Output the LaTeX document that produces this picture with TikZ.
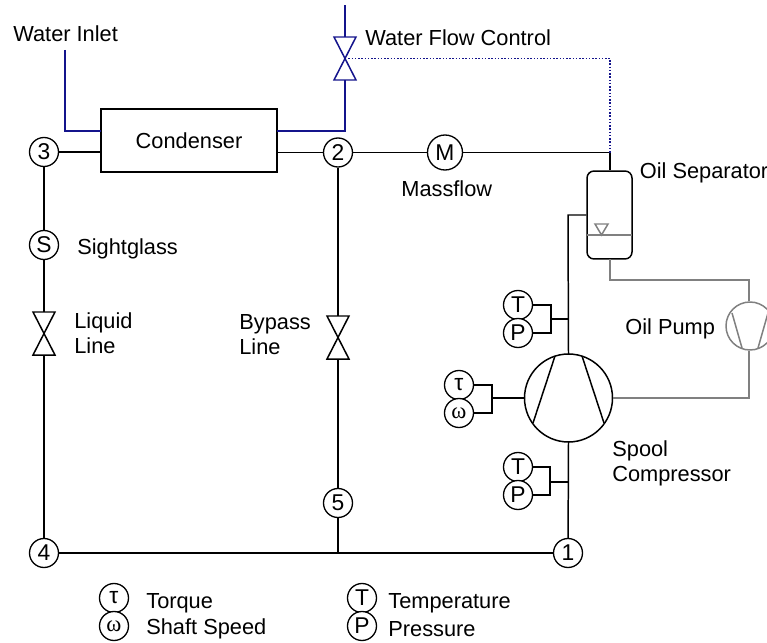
\documentclass[tikz,border=0pt]{standalone}
\usepackage{fontspec}
\setmainfont{Liberation Sans}
\newfontfamily\symfont{Liberation Serif}

\definecolor{waterblue}{RGB}{20,20,140}
\definecolor{oilgray}{RGB}{128,128,128}

\tikzset{
    pipe/.style={line width=0.85pt, black},
    waterpipe/.style={line width=0.85pt, waterblue},
    oilpipe/.style={line width=0.85pt, oilgray},
    sensor/.style={draw, circle, line width=0.75pt, minimum size=0.58cm, inner sep=0pt, fill=white, font=\fontsize{13}{14}\selectfont},
    label/.style={anchor=west, inner sep=0pt, align=left, font=\fontsize{12.4}{14.2}\selectfont},
    valvesym/.pic={
        \draw[pic actions] (-11,-21.5) -- (11,-21.5) -- (-11,21.5) -- (11,21.5) -- cycle;
        \coordinate (-top) at (0,-21.5);
        \coordinate (-bot) at (0,21.5);
        \coordinate (-mid) at (0,0);
    }
}

\begin{document}
\begin{tikzpicture}[x=0.02cm, y=-0.02cm]

    % Fix the frame to the size of the image
    \useasboundingbox (0,0) rectangle (767,642);
    \clip (0,0) rectangle (767,642);

    % State points and sensors
    \node[sensor] (three) at (44,152) {3};
    \node[sensor] (two) at (338,152.5) {2};
    \node[sensor, minimum size=0.7cm] (mass) at (445,152.5) {M};
    \node[sensor] (sight) at (44,245) {S};
    \node[sensor] (five) at (338,503) {5};
    \node[sensor] (four) at (44,553) {4};
    \node[sensor] (one) at (568,553) {1};

    % Condenser and separator
    \node[draw, line width=0.85pt, minimum width=3.52cm, minimum height=1.26cm, inner sep=0pt, font=\fontsize{12.4}{14}\selectfont] (cond) at (189,140.5) {\raisebox{-1pt}{Condenser}};
    \node[draw, line width=0.85pt, rounded corners=4pt, minimum width=0.9cm, minimum height=1.76cm] (sep) at (609.5,215) {};

    % Compressor and oil pump
    \node[draw, circle, line width=0.85pt, minimum size=1.76cm, inner sep=0pt] (comp) at (568.5,398) {};
    \node[draw, oilgray, circle, line width=0.85pt, minimum size=0.96cm, inner sep=0pt] (pump) at (750,326) {};

    % Valves
    \pic[pipe] (vliq) at (44,333.5) {valvesym};
    \pic[pipe] (vbyp) at (338,337.5) {valvesym};
    \pic[waterpipe] (vwat) at (345,58.5) {valvesym};

    % Main loop
    \coordinate (teetop) at (610,152.5);
    \coordinate (teebyp) at (338,553);
    \draw[pipe] (three) -- (cond.west |- three);
    \draw[pipe] (cond.east |- two) -- (two);
    \draw[pipe] (two) -- (mass);
    \draw[pipe] (mass) -- (teetop) -- (sep.north -| teetop);
    \draw[pipe] (three) -- (sight);
    \draw[pipe] (sight) -- (vliq-top);
    \draw[pipe] (vliq-bot) -- (four);
    \draw[pipe] (two) -- (vbyp-top);
    \draw[pipe] (vbyp-bot) -- (five);
    \draw[pipe] (five) -- (teebyp);
    \draw[pipe] (four) -- (one);
    \draw[pipe] (comp) ++(0,-44) coordinate (comptop) -- (568,215) coordinate (sepin) -- (sep.west |- sepin);
    \draw[pipe] (comp) ++(0,44) coordinate (compbot) -- (one);

    % Compressor inner lines
    \draw[pipe] (555,356) -- (533,423);
    \draw[pipe] (582,356) -- (604,423);

    % Water side
    \coordinate (waterin) at (65,50);
    \coordinate (condin) at (101,131);
    \coordinate (condout) at (277,131);
    \coordinate (waterout) at (345,5);
    \draw[waterpipe] (waterin) |- (condin);
    \draw[waterpipe] (condout) -| (vwat-bot);
    \draw[waterpipe] (vwat-top) -- (waterout);
    \draw[waterpipe, densely dotted] (vwat-mid) -| (teetop);

    % Oil side
    \coordinate (sepout) at (610,259);
    \coordinate (oilbend) at (749,280);
    \coordinate (pumpbend) at (749,398);
    \draw[oilpipe] (sepout) |- (oilbend) -- (pump.north -| oilbend);
    \draw[oilpipe] (pump.south -| pumpbend) -- (pumpbend) -- (comp.east);
    \draw[oilpipe] (732,313) -- (742,348);
    \draw[oilpipe] (768,313) -- (758,348);
    \draw[oilpipe] (587,235) -- (632,235);
    \draw[oilpipe] (595,224) -- (608,224) -- (601.5,235) -- cycle;

    % Upper T and P
    \node[sensor] (t1) at (518,305) {T};
    \node[sensor] (p1) at (518,333) {P};
    \coordinate (b1) at (551,319);
    \draw[pipe] (t1) -| (b1) |- (p1);
    \draw[pipe] (b1) -- (568,319);

    % Lower T and P
    \node[sensor] (t2) at (518,467) {T};
    \node[sensor] (p2) at (518,495) {P};
    \coordinate (b2) at (550,482);
    \draw[pipe] (t2) -| (b2) |- (p2);
    \draw[pipe] (b2) -- (568,482);

    % Torque and speed
    \node[sensor] (tq) at (459,385) {τ};
    \node[sensor] (sp) at (459,413) {\symfont ω};
    \coordinate (b3) at (492,398);
    \draw[pipe] (tq) -| (b3) |- (sp);
    \draw[pipe] (b3) -- (comp.west);

    % Labels
    \node[label] (lwi) at (13,34) {Water Inlet};
    \node[label] (lwf) at (365,38) {Water Flow Control};
    \node[label] (lmf) at (401,189) {Massflow};
    \node[label] (los) at (639.5,173) {Oil Separator};
    \node[label] (lsg) at (77,249) {Sightglass};
    \node[label] (lll) at (74,333) {Liquid\\Line};
    \node[label] (lbl) at (239,335) {Bypass\\Line};
    \node[label] (lop) at (625,329) {Oil Pump};
    \node[label] (lsc) at (612,463) {Spool\\Compressor};

    % Legend
    \node[sensor] (legtq) at (114,598) {τ};
    \node[sensor] (legsp) at (114,626) {\symfont ω};
    \node[sensor] (legt) at (362,598) {T};
    \node[sensor] (legp) at (362,626) {P};
    \node[label] (ltq) at (146,603) {Torque};
    \node[label] (lsp) at (146,629) {Shaft Speed};
    \node[label] (ltp) at (388,603) {Temperature};
    \node[label] (lpr) at (388,629) {Pressure};

\end{tikzpicture}
\end{document}
